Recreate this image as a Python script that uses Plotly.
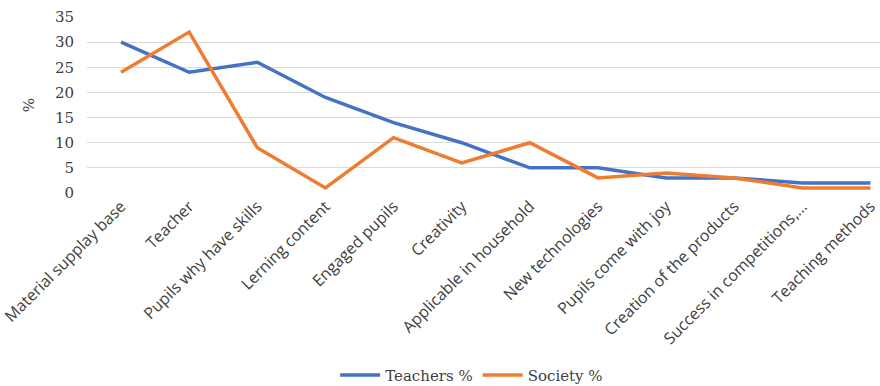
import plotly.graph_objects as go

categories = [
    "Material supplay base", "Teacher", "Pupils why have skills", "Lerning content",
    "Engaged pupils", "Creativity", "Applicable in household", "New technologies",
    "Pupils come with joy", "Creation of the products", "Success in competitions,...",
    "Teaching methods",
]
teachers = [30, 24, 26, 19, 14, 10, 5, 5, 3, 3, 2, 2]
society = [24, 32, 9, 1, 11, 6, 10, 3, 4, 3, 1, 1]
y_ticks = [0, 5, 10, 15, 20, 25, 30, 35]

serif = "DejaVu Serif"
text_color = "#404040"

fig = go.Figure()
fig.add_trace(go.Scatter(x=categories, y=teachers, mode="lines", name="Teachers %",
                         line=dict(color="#4472C4", width=3.5)))
fig.add_trace(go.Scatter(x=categories, y=society, mode="lines", name="Society %",
                         line=dict(color="#ED7D31", width=3.5)))

fig.update_layout(
    width=880, height=386,
    margin=dict(l=87, r=0, t=17, b=193),
    plot_bgcolor="white", paper_bgcolor="white",
    showlegend=True,
    legend=dict(orientation="h", xref="container", yref="container",
                x=0.536, xanchor="center", y=0.028, yanchor="middle",
                font=dict(family=serif, size=15, color=text_color),
                itemwidth=40, tracegroupgap=0),
    xaxis=dict(type="category", range=[-0.5, 11.14], tickangle=-45,
               showgrid=False, showline=False, ticks="",
               tickfont=dict(family="Open Sans", size=16, color=text_color)),
    yaxis=dict(range=[0, 35], tickvals=y_ticks, showgrid=True, gridcolor="#D9D9D9",
               gridwidth=1, zeroline=False, showline=False, ticks="",
               ticklabelstandoff=12,
               tickfont=dict(family=serif, size=15, color=text_color),
               title=dict(text="%", font=dict(family=serif, size=15, color=text_color),
                          standoff=16)),
)

fig.write_html("out.html")
